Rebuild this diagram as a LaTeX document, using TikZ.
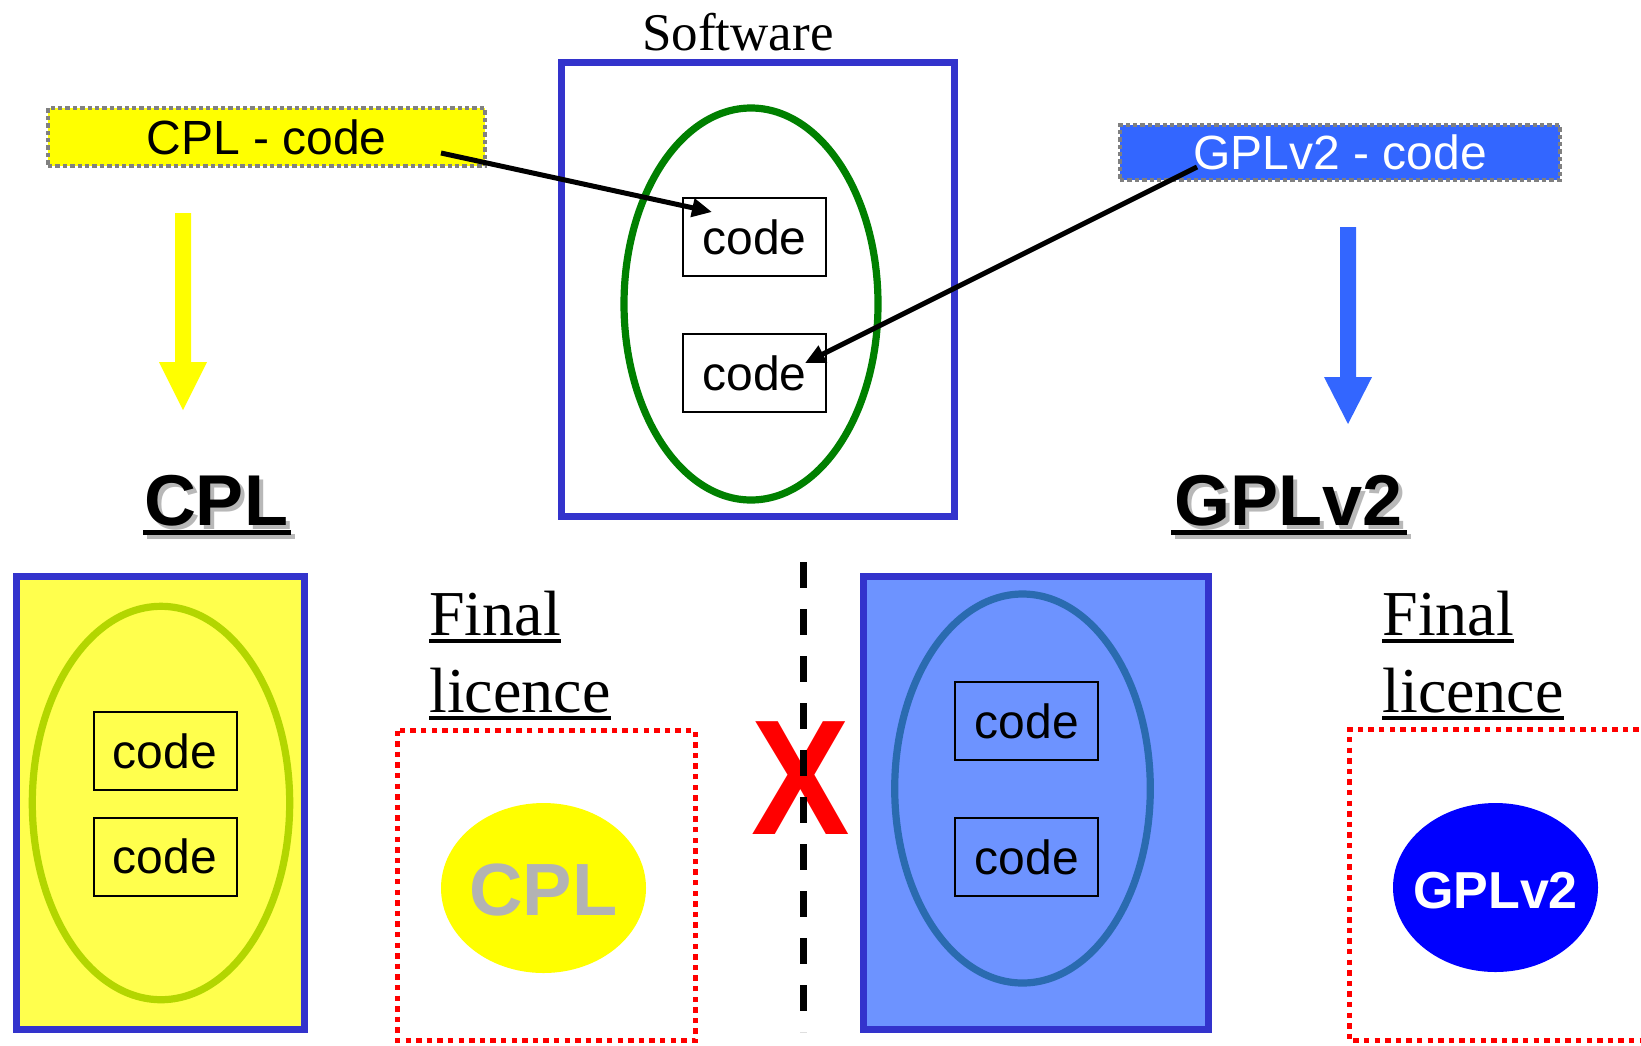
\documentclass[tikz,border=0pt]{standalone}
\usepackage{fontspec}
\setmainfont{Liberation Serif}
\newfontfamily\hv{Liberation Sans}
\usetikzlibrary{shapes.geometric,arrows.meta,calc}
\definecolor{cplyellow}{HTML}{FFFF00}
\definecolor{gplblue}{HTML}{3366FF}
\definecolor{frameblue}{HTML}{3333CC}
\definecolor{lightyellow}{HTML}{FFFF4D}
\definecolor{limegreen}{HTML}{B3D600}
\definecolor{lightblue}{HTML}{6D93FF}
\definecolor{steelblue}{HTML}{2A6BB0}
\definecolor{swgreen}{HTML}{008000}
\definecolor{shadowgray}{HTML}{B8B8B8}
\definecolor{cplgray}{HTML}{B3B3B3}
\definecolor{purered}{HTML}{FF0000}
\definecolor{pureblue}{HTML}{0000FF}
\begin{document}
\begin{tikzpicture}[x=0.5pt,y=-0.5pt,
  codebox/.style={draw=black, line width=1pt, minimum width=71.5pt, minimum height=39pt, inner sep=0pt, font=\hv\fontsize{24}{28}\selectfont},
  labelbox/.style={draw=gray, line width=2.2pt, dash pattern=on 2.2pt off 1.5pt, inner sep=0pt, font=\hv\fontsize{24}{28}\selectfont},
  frame/.style={draw=frameblue, line width=3.5pt},
  oval/.style={ellipse, line width=3.6pt, inner sep=0pt},
  licbox/.style={draw=purered, line width=2.7pt, dash pattern=on 2.7pt off 2.6pt},
  title/.style={font=\hv\bfseries\fontsize{36}{40}\selectfont, inner sep=0pt, anchor=base},
  finaltxt/.style={font=\fontsize{32}{36}\selectfont, inner sep=0pt, anchor=base west},
  ptr/.style={draw=black, line width=2.5pt, -{Triangle[length=10pt,width=9pt]}},
  badge/.style={ellipse, inner sep=0pt}
]
\useasboundingbox (0,0) rectangle (1641,1045);

% ---------- top: source labels ----------
\node[labelbox, fill=cplyellow, minimum width=218.5pt, minimum height=29pt] (cplcode) at (266.5,137) {CPL - code};
\node[labelbox, fill=gplblue, text=white, minimum width=220pt, minimum height=27.5pt] (gplcode) at (1340,152.5) {GPLv2 - code};

% block arrows
\fill[cplyellow] (175,213) -- (191,213) -- (191,362) -- (207,362) -- (183,410) -- (159,362) -- (175,362) -- cycle;
\fill[gplblue] (1340,227) -- (1356,227) -- (1356,377) -- (1372,377) -- (1348,424) -- (1324,377) -- (1340,377) -- cycle;

% ---------- software ----------
\node[font=\fontsize{26.5}{30}\selectfont, anchor=base, inner sep=0pt] (swlabel) at (738,50) {Software};
\draw[frame, fill=white] (561,62) rectangle (954,516);
\node[oval, draw=swgreen, minimum width=127pt, minimum height=196pt] (swoval) at (751,304) {};
\node[codebox] (swcode1) at (754.5,237) {code};
\node[codebox] (swcode2) at (754.5,373) {code};

\coordinate (cplsrc) at (441,153);
\coordinate (cpldst) at (712,212);
\coordinate (gplsrc) at (1197,167);
\coordinate (gpldst) at (805,363);
\draw[ptr] (cplsrc) -- (cpldst);
\draw[ptr] (gplsrc) -- (gpldst);

% ---------- titles ----------
\fill[shadowgray] (147,534) rectangle (295,539);
\node[title, text=shadowgray] (cplshadow) at (220,529) {CPL};
\fill[black] (143,530) rectangle (291,535);
\node[title] (cpltitle) at (216,525) {CPL};

\fill[shadowgray] (1175,534) rectangle (1411,539);
\node[title, text=shadowgray] (gplshadow) at (1292.5,529) {GPLv2};
\fill[black] (1171,530) rectangle (1407,535);
\node[title] (gpltitle) at (1288.5,525) {GPLv2};

% ---------- left: CPL result ----------
\draw[frame, fill=lightyellow] (16.5,576.5) rectangle (304.5,1029.5);
\node[oval, draw=limegreen, minimum width=128.7pt, minimum height=196.7pt] (cploval) at (161,803) {};
\node[codebox] (cplcode1) at (165,751) {code};
\node[codebox] (cplcode2) at (165,856.5) {code};

\node[finaltxt] (fin1) at (429,635) {Final};
\node[finaltxt] (lic1) at (429,712) {licence};
\fill ($(fin1.base west)+(0,4)$) rectangle ($(fin1.base east)+(0,8)$);
\fill ($(lic1.base west)+(0,4)$) rectangle ($(lic1.base east)+(0,8)$);
\draw[licbox] (397.5,730.5) rectangle (695.5,1040.5);
\node[badge, fill=cplyellow, minimum width=102.5pt, minimum height=85pt] (cplbadge) at (543.5,888) {};
\node[inner sep=0pt, text=cplgray, font=\hv\bfseries\fontsize{37}{40}\selectfont] (cplbadgetxt) at (543.5,890) {CPL};

% ---------- separator and cross ----------
\node[font=\hv\bfseries\fontsize{82}{90}\selectfont, text=purered, inner sep=0pt] (nox) at (801,778.5) {\scalebox{0.9}[1]{X}};
\draw[line width=3.5pt, dash pattern=on 13pt off 10.5pt] (803.5,562) -- (803.5,1032);

% ---------- right: GPLv2 result ----------
\draw[frame, fill=lightblue] (863.5,576.5) rectangle (1208.5,1029.5);
\node[oval, draw=steelblue, minimum width=127.8pt, minimum height=194.5pt] (gploval) at (1022.5,788.5) {};
\node[codebox] (gplcode1) at (1026.75,721) {code};
\node[codebox] (gplcode2) at (1026.75,857) {code};

\node[finaltxt] (fin2) at (1382,635) {Final};
\node[finaltxt] (lic2) at (1382,712) {licence};
\fill ($(fin2.base west)+(0,4)$) rectangle ($(fin2.base east)+(0,8)$);
\fill ($(lic2.base west)+(0,4)$) rectangle ($(lic2.base east)+(0,8)$);
\draw[licbox] (1660,729.5) -- (1349.5,729.5) -- (1349.5,1040.5) -- (1660,1040.5);
\node[badge, fill=pureblue, minimum width=102.5pt, minimum height=84.5pt] (gplbadge) at (1495.5,887.5) {};
\node[inner sep=0pt, text=white, font=\hv\bfseries\fontsize{26}{30}\selectfont] (gplbadgetxt) at (1495.5,890.5) {GPLv2};
\end{tikzpicture}
\end{document}
